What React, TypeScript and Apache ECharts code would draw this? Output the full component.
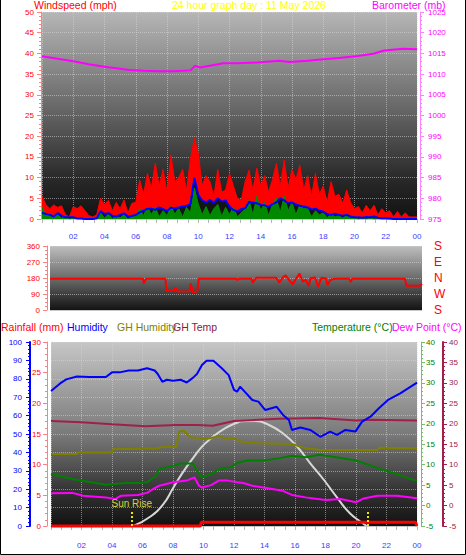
import React, { useEffect, useRef } from "react";
import * as echarts from "echarts";

const FONT = '"Liberation Sans", Arial, sans-serif';

// ---- Top panel: wind (mph, every 15 minutes from 00:00 to 24:00) ----
const gustMph = [
  5.5, 3.5, 2.5, 3.4, 2.8, 3.2, 1.0, 0.5, 3.0, 2.5, 3.2, 2.0,
  0.8, 0.5, 1.0, 5.0, 3.5, 4.5, 2.0, 4.0, 2.5, 4.6, 1.5, 3.8,
  4.0, 9.4, 6.0, 11.0, 7.5, 13.5, 8.0, 12.0, 6.5, 15.5, 9.0, 10.0,
  12.0, 7.0, 14.5, 19.5, 16.0, 8.0, 10.5, 9.0, 5.5, 12.0, 6.5, 7.0,
  11.0, 8.0, 5.0, 4.6, 9.0, 11.8, 7.0, 12.3, 8.0, 10.5, 6.5, 9.5,
  13.5, 8.0, 14.2, 7.5, 12.0, 9.5, 13.0, 7.0, 10.5, 5.5, 11.0, 6.0,
  8.0, 4.0, 9.0, 5.5, 6.0, 3.8, 7.0, 4.0, 2.5, 3.0, 1.5, 3.3,
  2.0, 3.3, 1.0, 2.5, 1.5, 2.0, 0.5, 1.8, 0.5, 1.5, 0.5, 0.5, 0.5,
];
const avgMph = [
  1.5, 1.2, 1.0, 0.6, 1.4, 0.8, 0.4, 0.4, 0.4, 0.2, 0.1, 0.0,
  0.0, 0.0, 0.2, 1.9, 1.2, 1.4, 0.8, 0.6, 1.0, 1.4, 0.6, 0.8,
  1.0, 1.6, 2.0, 2.5, 2.5, 2.2, 2.8, 2.4, 2.0, 2.7, 2.6, 2.8,
  3.0, 3.2, 3.6, 9.9, 5.8, 4.5, 4.0, 4.6, 3.9, 5.0, 4.2, 4.5,
  3.0, 2.2, 1.8, 2.4, 2.6, 4.1, 4.0, 3.8, 3.4, 3.3, 3.0, 3.6,
  4.0, 5.0, 4.5, 3.8, 4.0, 3.5, 3.2, 3.0, 2.8, 2.3, 2.5, 2.0,
  1.8, 1.2, 1.0, 1.3, 1.0, 0.8, 1.0, 0.6, 0.4, 0.4, 0.3, 0.5,
  0.4, 0.6, 0.3, 0.2, 0.2, 0.1, 0.0, 0.0, 0.0, 0.0, 0.0, 0.0, 0.0,
];
const windMph = [
  3.0, 0.8, 1.2, 0.3, 1.0, 0.2, 0.5, 0.0, 0.3, 0.0, 0.2, 0.0,
  0.0, 0.0, 0.3, 1.5, 0.2, 1.2, 0.0, 0.8, 0.3, 1.0, 0.0, 0.5,
  0.6, 2.5, 0.8, 3.0, 1.0, 2.8, 0.5, 2.0, 0.8, 3.0, 1.2, 2.5,
  0.5, 2.8, 1.5, 7.5, 3.6, 1.0, 3.0, 0.8, 2.5, 3.5, 0.6, 2.8,
  1.0, 3.0, 0.5, 1.5, 2.5, 4.5, 1.0, 5.5, 2.0, 4.0, 0.8, 3.5,
  5.0, 1.5, 5.5, 2.0, 4.0, 1.0, 3.5, 2.5, 2.5, 0.5, 2.0, 1.0,
  1.5, 0.3, 1.2, 0.5, 0.8, 0.2, 1.0, 0.2, 0.3, 0.0, 0.2, 0.0,
  0.2, 0.0, 0.1, 0.0, 0.0, 0.0, 0.0, 0.0, 0.0, 0.0, 0.0, 0.0, 0.0,
];
const SAMPLE_STEP_H = 0.25;

// Barometer [hour, mb]
const baroMb: [number, number][] = [
  [0, 1014.3], [1, 1013.7], [2, 1013.1], [3, 1012.4], [4, 1011.8], [5, 1011.3],
  [5.6, 1011.0], [6.5, 1010.8], [7.5, 1010.7], [8.4, 1010.7], [9.0, 1010.8],
  [9.5, 1010.9], [9.8, 1012.0], [10.1, 1011.6], [11, 1012.2], [11.6, 1012.6],
  [12.5, 1012.6], [13.75, 1012.8], [15.2, 1013.2], [15.8, 1012.9], [17, 1013.2],
  [18, 1013.6], [19, 1013.9], [20.2, 1014.4], [21.2, 1014.9], [21.9, 1015.7],
  [23.1, 1016.1], [24, 1016.0],
];

// ---- Middle panel: wind direction [hour, degrees] ----
const windDirDeg: [number, number][] = [
  [0, 176], [6.0, 176], [6.05, 148], [6.2, 176], [7.45, 176], [7.5, 110], [8.0, 110],
  [8.1, 127], [8.25, 104], [9.0, 105], [9.07, 149], [9.24, 98], [9.5, 105], [9.6, 176],
  [12.0, 176], [12.1, 168], [12.2, 176], [13.0, 176], [13.07, 153], [13.3, 181],
  [14.6, 181], [14.8, 155], [15.0, 181], [15.2, 195], [15.45, 165], [15.66, 145],
  [15.9, 180], [16.1, 205], [16.3, 160], [16.5, 170], [16.7, 135], [16.8, 178],
  [17.1, 183], [17.3, 130], [17.5, 180], [17.8, 178], [17.9, 140], [18.1, 170],
  [18.4, 176], [19.3, 176], [19.4, 157], [19.5, 176], [22.9, 176], [23.0, 136],
  [23.85, 136], [24, 148],
];
const dirLetters: Record<number, string> = { 0: "S", 90: "W", 180: "N", 270: "E", 360: "S" };

// ---- Bottom panel [hour, value] ----
const humidityPct: [number, number][] = [
  [0, 73.4], [0.6, 77.5], [1.0, 79.7], [1.7, 81.2], [2.5, 81], [3.6, 81], [4.0, 83.5],
  [4.5, 83.5], [5.1, 84.5], [5.7, 84.5], [6.3, 85.7], [6.8, 84.5], [7.0, 82.6],
  [7.3, 78.4], [7.6, 79.5], [8.0, 79], [8.5, 79.5], [8.9, 78], [9.3, 80.5],
  [9.57, 82.6], [9.9, 87.5], [10.2, 89.8], [10.65, 89.8], [11.2, 85.7], [11.65, 82],
  [12.0, 74], [12.2, 73], [12.4, 75.7], [12.7, 73], [13.2, 68.5], [13.6, 67.6],
  [14.05, 63], [14.8, 64.8], [15.2, 60.5], [15.6, 57.6], [15.8, 52.2], [16.35, 53.5],
  [17.0, 52.2], [17.66, 48.5], [18.3, 51.3], [18.76, 49.5], [19.3, 52.2],
  [19.96, 51.3], [20.4, 56.7], [20.95, 59.4], [21.5, 64], [22.1, 68.5], [22.9, 72.1],
  [24, 77.9],
];
const ghTempC: [number, number][] = [
  [0, 20.7], [2, 20.4], [4, 19.9], [6.2, 19.4], [8.2, 19.7], [9.6, 19.7],
  [10.6, 19.5], [12, 20.7], [14.9, 21.2], [17.6, 21.4], [20, 20.8], [21, 21.0], [24, 20.8],
];
const ghHumidityPct: [number, number][] = [
  [0, 39.1], [1.7, 39.1], [1.75, 40], [4.0, 40], [4.05, 41.7], [7.0, 42.3], [7.3, 43],
  [8.2, 43], [8.4, 51.3], [8.7, 51.8], [9.1, 48.5], [9.6, 47.6], [10.4, 47.6],
  [11.0, 49], [11.4, 47.6], [12.0, 47.6], [12.5, 45.8], [13.6, 45], [15.8, 44.6],
  [16.7, 42.2], [17.66, 41.3], [21.4, 41.3], [21.5, 42.5], [24, 42.2],
];
const temperatureC: [number, number][] = [
  [0, 7.7], [1.4, 6.5], [3.6, 5.1], [4.9, 5.5], [5.7, 5.5], [6.3, 5.7], [6.9, 7.3],
  [7.1, 8.9], [8.0, 9.7], [8.5, 10.3], [9.3, 10.3], [9.6, 8.5], [9.9, 6.9],
  [10.5, 7.7], [11, 8.9], [11.8, 9.4], [12.2, 10.4], [12.85, 11], [13.95, 11],
  [15.0, 11.6], [15.8, 12.2], [16.7, 11.8], [17.6, 12.4], [18.7, 11.8], [20.0, 11.0],
  [20.9, 9.9], [21.6, 8.9], [22.5, 7.9], [23.4, 6.7], [24, 6.1],
];
const dewPointC: [number, number][] = [
  [0, 3.0], [1.4, 3.1], [2.1, 2.4], [3.6, 2.0], [4.2, 1.6], [4.6, 2.4], [5.7, 2.6],
  [6.3, 3.1], [6.7, 4.05], [7.1, 4.85], [8.0, 5.7], [8.9, 6.1], [9.4, 6.9], [9.7, 4.85],
  [9.9, 4.4], [10.5, 5.0], [11, 6.1], [11.6, 6.1], [12.2, 5.7], [12.6, 5.5],
  [13.2, 4.85], [14.5, 4.05], [15.2, 3.6], [15.8, 2.6], [16.7, 2.0], [18.0, 1.35],
  [19.0, 1.6], [20.0, 0.8], [20.5, 1.75], [21.4, 2.4], [22.7, 2.4], [24, 1.8],
];
const rainfallMm: [number, number][] = [
  [0, 0], [9.8, 0], [9.85, 0.6], [23.9, 0.6], [24, 0],
];
const solarCurve: [number, number][] = [
  [5.4, 0], [6.5, 5], [7.4, 12.3], [8.0, 20.5], [8.6, 28.6], [9.3, 36.8], [9.9, 43.1],
  [10.5, 47.7], [11.4, 53.1], [12.2, 56.1], [12.5, 56.9], [13.4, 57.1], [14.3, 54.9],
  [15.2, 50.4], [16.1, 43.5], [17.0, 34.1], [17.9, 25], [18.8, 15], [19.6, 6.9],
  [20.3, 2.3], [20.7, 0],
];
const sunRiseHour = 5.3;
const sunSetHour = 20.8;

function hourLabel(v: number) {
  if (v === 0) return "";
  const h = v % 24;
  return (h < 10 ? "0" : "") + h;
}

function plainNumber(v: number) {
  return String(v);
}

function grad(stops: [number, string][]) {
  return new echarts.graphic.LinearGradient(
    0, 0, 0, 1,
    stops.map(([offset, color]) => ({ offset, color }))
  );
}

const gridSplit = { show: true, lineStyle: { color: "rgba(215,215,215,0.55)", type: "dotted", width: 1 } };

function timeAxis(gridIndex: number, margin: number, showLabels: boolean) {
  return {
    type: "value",
    gridIndex,
    min: 0,
    max: 24,
    interval: 2,
    axisLine: { show: true, lineStyle: { color: "#c8c8c8" } },
    axisTick: { show: showLabels, length: 4, lineStyle: { color: "#b4b4b4" } },
    minorTick: { show: showLabels, splitNumber: 3, length: 4, lineStyle: { color: "#b4b4b4" } },
    axisLabel: { show: showLabels, formatter: hourLabel, color: "#3c3cff", fontSize: 8, margin, fontFamily: FONT },
    splitLine: showLabels ? gridSplit : { show: false },
  };
}

function valueAxis(o: any) {
  return {
    type: "value",
    gridIndex: o.grid,
    position: o.position,
    offset: o.offset,
    min: o.min,
    max: o.max,
    interval: o.interval,
    axisLine: { show: o.lineShow !== false, onZero: false, lineStyle: { color: o.lineColor, width: o.lineWidth || 1 } },
    axisTick: { show: o.lineShow !== false, length: 4, lineStyle: { color: o.lineColor } },
    minorTick: { show: o.lineShow !== false, splitNumber: o.minor || 5, length: 2, lineStyle: { color: o.lineColor } },
    axisLabel: {
      color: o.labelColor,
      fontSize: o.fontSize || 8,
      margin: o.margin,
      fontFamily: FONT,
      formatter: o.formatter || plainNumber,
    },
    splitLine: o.split ? gridSplit : { show: false },
  };
}

function line(o: any) {
  return {
    type: "line",
    xAxisIndex: o.x,
    yAxisIndex: o.y,
    data: o.data,
    symbol: "none",
    smooth: o.smooth || false,
    clip: o.clip !== false,
    silent: true,
    lineStyle: o.lineStyle,
    areaStyle: o.areaStyle,
    markLine: o.markLine,
    z: o.z || 2,
  };
}

export default function App() {
  const ref = useRef<HTMLDivElement>(null);

  useEffect(() => {
    document.body.style.margin = "0";
    if (!ref.current) return;
    const chart = echarts.init(ref.current, undefined, { renderer: "svg" });

    const gustPts = gustMph.map((v, i) => [i * SAMPLE_STEP_H, v]);
    const avgPts = avgMph.map((v, i) => [i * SAMPLE_STEP_H, v]);
    const windPts = windMph.map((v, i) => [i * SAMPLE_STEP_H, v]);

    const headerText = (text: string, x: number, y: number, fill: string) => ({
      type: "text",
      x,
      y,
      silent: true,
      style: { text, fill, font: `10.5px ${FONT}`, textVerticalAlign: "middle" },
    });

    const option: any = {
      animation: false,
      backgroundColor: "#ffffff",
      textStyle: { fontFamily: FONT },
      grid: [
        {
          left: 42, top: 12, width: 375, height: 207, show: true, borderWidth: 0,
          backgroundColor: grad([[0, "#b6b6b6"], [0.45, "#6a6a6a"], [0.8, "#2a2a2a"], [1, "#111111"]]),
        },
        {
          left: 50, top: 246, width: 372, height: 64, show: true, borderWidth: 0,
          backgroundColor: grad([[0, "#bebebe"], [0.5, "#6c6c6c"], [1, "#131313"]]),
        },
        {
          left: 51, top: 342, width: 366, height: 184, show: true, borderWidth: 0,
          backgroundColor: grad([[0, "#c6c6c6"], [0.5, "#7a7a7a"], [0.8, "#353535"], [1, "#111111"]]),
        },
      ],
      xAxis: [timeAxis(0, 13, true), timeAxis(1, 0, false), timeAxis(2, 15, true)],
      yAxis: [
        valueAxis({ grid: 0, position: "left", offset: 1, min: 0, max: 50, interval: 5, lineColor: "#ff8080", labelColor: "#ff0000", margin: 7, split: true }),
        valueAxis({ grid: 0, position: "right", offset: 3, min: 975, max: 1025, interval: 5, lineColor: "#ff80ff", labelColor: "#ff00ff", margin: 8 }),
        valueAxis({ grid: 1, position: "left", offset: 3, min: 0, max: 360, interval: 90, minor: 4, lineColor: "#ff8080", labelColor: "#ff0000", margin: 7, split: true }),
        valueAxis({
          grid: 1, position: "right", offset: 0, min: 0, max: 360, interval: 90, lineShow: false,
          labelColor: "#ff0000", fontSize: 12, margin: 12,
          formatter: (v: number) => dirLetters[v] ?? "",
        }),
        valueAxis({ grid: 2, position: "left", offset: 21, min: 0, max: 100, interval: 10, lineColor: "#0000ff", lineWidth: 2, labelColor: "#0000ff", margin: 8, split: true }),
        valueAxis({ grid: 2, position: "left", offset: 4, min: 0, max: 30, interval: 5, lineColor: "#ff8080", labelColor: "#ff0000", margin: 6 }),
        valueAxis({ grid: 2, position: "right", offset: 4, min: -5, max: 40, interval: 5, lineColor: "#70c070", labelColor: "#008000", margin: 5 }),
        valueAxis({ grid: 2, position: "right", offset: 26, min: -5, max: 40, interval: 5, lineColor: "#a0204a", lineWidth: 2, labelColor: "#a0204a", margin: 6 }),
      ],
      graphic: {
        elements: [
          headerText("Windspeed (mph)", 34, 5, "#ff0000"),
          headerText("24 hour graph day : 11 May 2026", 172, 5, "#ffff00"),
          headerText("Barometer (mb)", 372, 5, "#ff00ff"),
          headerText("Rainfall (mm)", 1, 327, "#ff0000"),
          headerText("Humidity", 67, 327, "#0000ff"),
          headerText("GH Humidity", 117, 327, "#808000"),
          headerText("GH Temp", 173, 327, "#8b1a40"),
          headerText("Temperature (°C)", 312, 327, "#008000"),
          headerText("Dew Point (°C)", 392, 327, "#ff00ff"),
          {
            type: "polyline",
            silent: true,
            shape: { points: [[0.5, 0], [0.5, 554.5], [465.5, 554.5], [465.5, 0]] },
            style: { stroke: "#000000", lineWidth: 1, fill: "none" },
          },
        ],
      },
      series: [
        // top panel
        line({ x: 0, y: 0, data: gustPts, lineStyle: { color: "#ff0000", width: 1 }, areaStyle: { color: "#ff0000", opacity: 1 } }),
        line({ x: 0, y: 0, data: avgPts, lineStyle: { width: 0, opacity: 0 }, areaStyle: { color: "#141414", opacity: 1 } }),
        line({ x: 0, y: 0, data: windPts, lineStyle: { color: "#009000", width: 1 }, areaStyle: { color: "#008800", opacity: 1 } }),
        line({ x: 0, y: 0, data: avgPts, lineStyle: { color: "#0000ff", width: 2 } }),
        line({ x: 0, y: 1, data: baroMb, lineStyle: { color: "#ff00ff", width: 2 } }),
        // middle panel
        line({ x: 1, y: 2, data: windDirDeg, lineStyle: { color: "#ff0000", width: 2 } }),
        // bottom panel
        line({
          x: 2, y: 4, data: solarCurve, smooth: true, lineStyle: { color: "#d8d8d8", width: 2 },
          markLine: {
            symbol: ["none", "none"],
            silent: true,
            lineStyle: { color: "#e8e800", type: "dotted", width: 2 },
            label: { show: true, position: "end", formatter: "Sun Rise", color: "#d4d43c", fontSize: 10, distance: 2, fontFamily: FONT },
            data: [
              [{ coord: [sunRiseHour, 0] }, { coord: [sunRiseHour, 8.5] }],
              [{ coord: [sunSetHour, 0], label: { show: false } }, { coord: [sunSetHour, 8.5], label: { show: false } }],
            ],
          },
        }),
        line({ x: 2, y: 7, data: ghTempC, lineStyle: { color: "#a0204a", width: 2 } }),
        line({ x: 2, y: 4, data: ghHumidityPct, lineStyle: { color: "#808000", width: 2 } }),
        line({ x: 2, y: 6, data: temperatureC, lineStyle: { color: "#008000", width: 2 } }),
        line({ x: 2, y: 6, data: dewPointC, lineStyle: { color: "#ff00ff", width: 2 } }),
        line({ x: 2, y: 4, data: humidityPct, lineStyle: { color: "#0000ff", width: 2 } }),
        line({ x: 2, y: 5, data: rainfallMm, clip: false, lineStyle: { color: "#ff0000", width: 3 } }),
      ],
    };

    chart.setOption(option);
    return () => chart.dispose();
  }, []);

  return <div ref={ref} style={{ width: 466, height: 555, background: "#ffffff" }} />;
}
